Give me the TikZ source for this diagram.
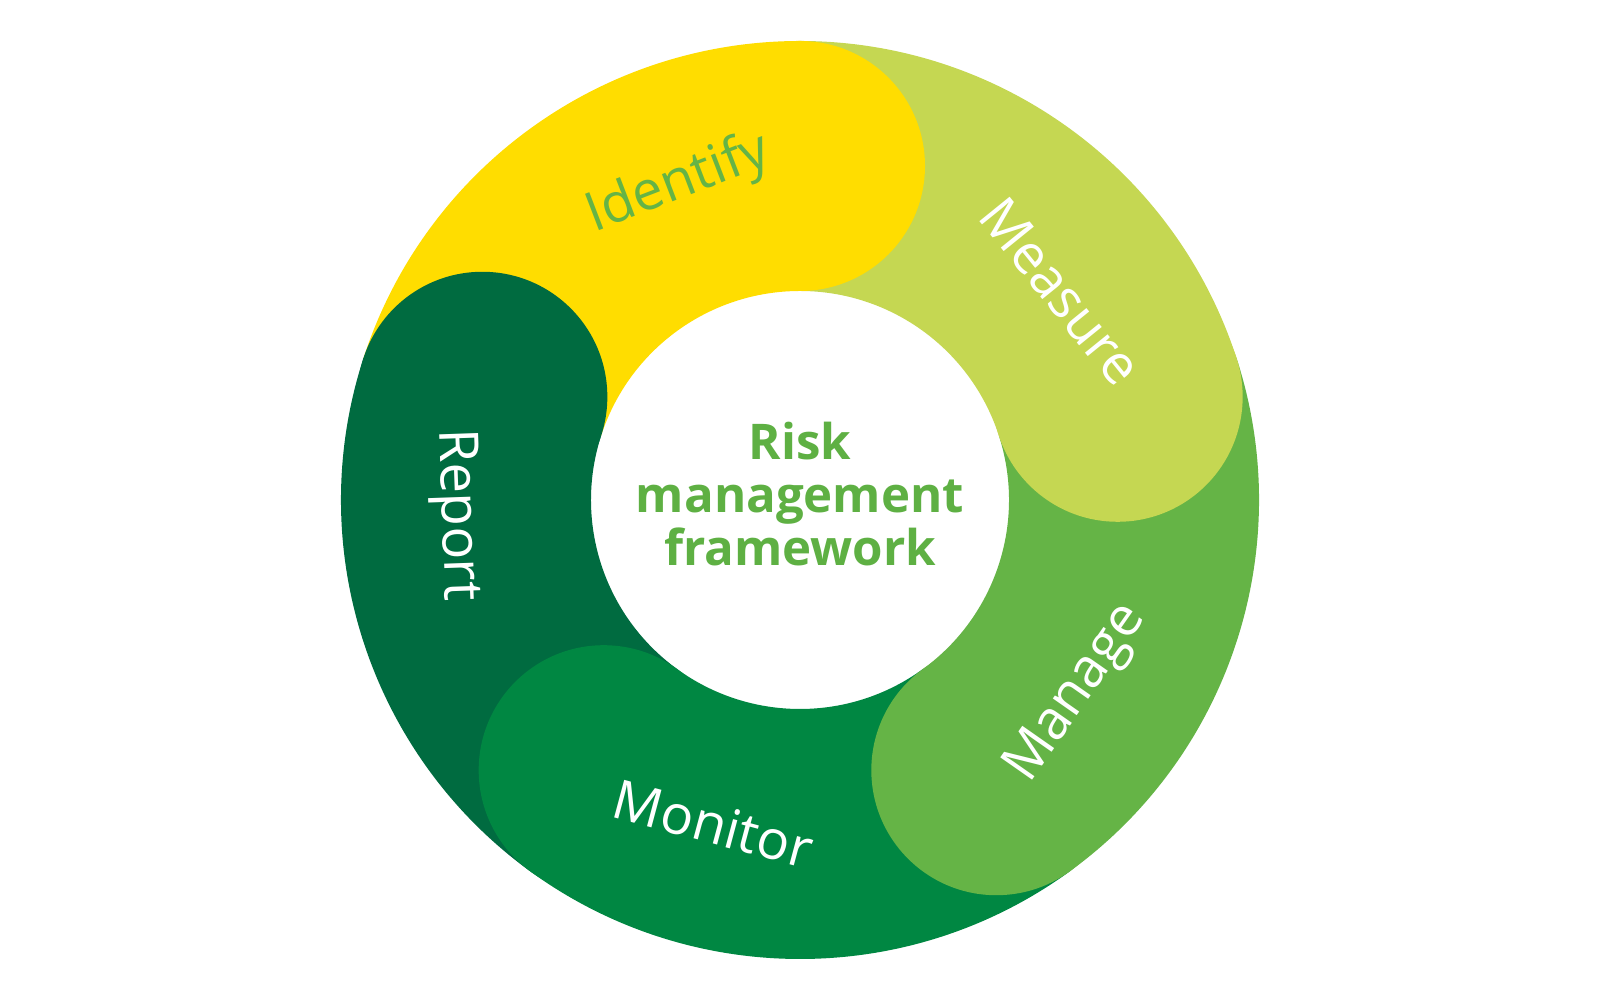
\documentclass[tikz,border=0pt]{standalone}
\usepackage{fontspec}
\setmainfont{Open Sans}
\usepackage{tikz}
\usetikzlibrary{calc}

\definecolor{identifyyellow}{HTML}{FFDD00}
\definecolor{measuregreen}{HTML}{C5D752}
\definecolor{managegreen}{HTML}{65B446}
\definecolor{monitorgreen}{HTML}{008742}
\definecolor{reportgreen}{HTML}{006B40}
\definecolor{hubgreen}{HTML}{5EB043}

\begin{document}
\begin{tikzpicture}[stage/.style={text=white, inner sep=0, font=\fontsize{15.5}{16}\selectfont},
                    hub/.style={text=hubgreen, align=center, inner sep=0, font=\fontsize{14}{15.2}\selectfont\bfseries}]
        \useasboundingbox (-8,-5) rectangle (8,5);

        % ring pieces first, then the round heads over the next piece
        \foreach \s/\col [evaluate=\s as \e using {\s-72}] in {162/identifyyellow, 90/measuregreen, 18/managegreen, -54/monitorgreen, -126/reportgreen} {
          \fill [\col] (\s:4.59) arc [start angle=\s, end angle=\e, radius=4.59]
            -- (\e:2.09) arc [start angle=\e, end angle=\s, radius=2.09] -- cycle;
        }
        \foreach \s/\col [evaluate=\s as \e using {\s-72}] in {162/identifyyellow, 90/measuregreen, 18/managegreen, -54/monitorgreen, -126/reportgreen} {
          \fill [\col] (\e:3.34) circle [radius=1.25];
        }

        \node [stage, text=managegreen, rotate=21] (identify) at (111:3.38) {Identify};
        \node [stage, rotate=-51] (measure) at (38.7:3.34) {Measure};
        \node [stage, rotate=55] (manage) at (-35:3.38) {Manage};
        \node [stage, rotate=-15] (monitor) at (-105:3.35) {Monitor};
        \node [stage, rotate=-88] (report) at (182.5:3.45) {Report};

        \node [hub] (hub) at (0, 0.06) {Risk\\management\\framework};
      \end{tikzpicture}
\end{document}
